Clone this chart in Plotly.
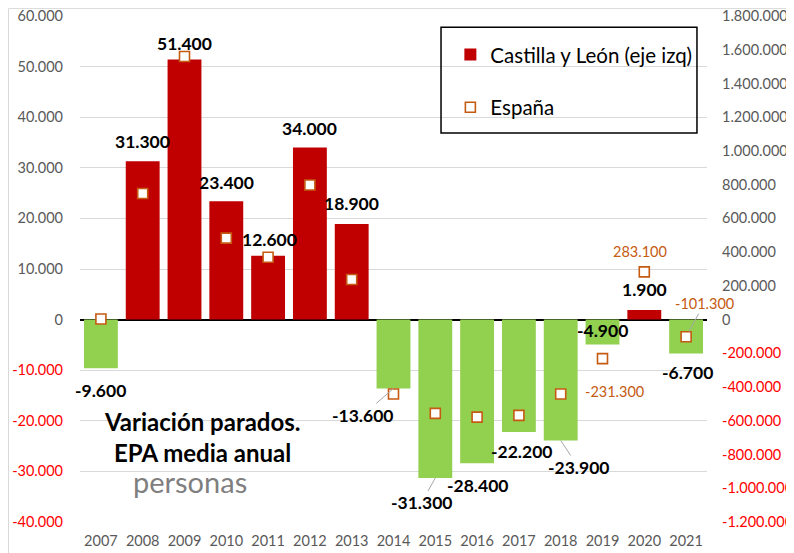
import plotly.graph_objects as go

# ---------------- data ----------------
years = ["2007", "2008", "2009", "2010", "2011", "2012", "2013", "2014",
         "2015", "2016", "2017", "2018", "2019", "2020", "2021"]
cyl_values = [-9600, 31300, 51400, 23400, 12600, 34000, 18900, -13600,
              -31300, -28400, -22200, -23900, -4900, 1900, -6700]
espana_values = [4000, 748000, 1560000, 483000, 370000, 798000, 238000, -441000,
                 -556000, -578000, -568000, -441000, -231300, 283100, -101300]
espana_labelled = ["2019", "2020", "2021"]
left_ticks = [60000, 50000, 40000, 30000, 20000, 10000, 0, -10000, -20000, -30000, -40000]
right_ticks = [1800000, 1600000, 1400000, 1200000, 1000000, 800000, 600000, 400000,
               200000, 0, -200000, -400000, -600000, -800000, -1000000, -1200000]
series_names = ["Castilla y León (eje izq)", "España"]
title_lines = ["Variación parados.", "EPA media anual", "personas"]

# ---------------- style ----------------
FONT = "Lato"
POS_COLOR = "#C00000"
NEG_COLOR = "#92D050"
ORANGE = "#C55A11"
GRAY_TXT = "#595959"
RED_TXT = "#FF0000"


def fmt(v):
    return f"{v:,}".replace(",", ".")


def tick_text(vals):
    out = []
    for v in vals:
        if v < 0:
            out.append(f'<span style="color:{RED_TXT}">{fmt(v)}</span>')
        else:
            out.append(fmt(v))
    return out


pos_vals = [v if v > 0 else None for v in cyl_values]
neg_vals = [v if v < 0 else None for v in cyl_values]

fig = go.Figure()
fig.add_trace(go.Bar(x=years, y=pos_vals, name=series_names[0], marker_color=POS_COLOR,
                     marker_line_width=0, legendgroup="a", yaxis="y"))
fig.add_trace(go.Bar(x=years, y=neg_vals, name=series_names[0], marker_color=NEG_COLOR,
                     marker_line_width=0, legendgroup="a", showlegend=False, yaxis="y"))
fig.add_trace(go.Scatter(x=years, y=espana_values, name=series_names[1], mode="markers",
                         marker=dict(symbol="square", size=10, color="white",
                                     line=dict(color=ORANGE, width=1.6)),
                         legendgroup="b", yaxis="y2"))

# label placement (pixel offsets of label centre from bar end)
cyl_offsets = {
    "2007": (0, 22), "2008": (0, -20), "2009": (0, -16), "2010": (0, -19),
    "2011": (1, -16), "2012": (0, -19), "2013": (0, -20), "2016": (0, 22),
    "2017": (3, 20), "2019": (0, -14), "2020": (0, -20), "2021": (1, 19),
}
cyl_arrows = {"2014": (-31, 27), "2015": (-14, 25), "2018": (18, 27)}
esp_offsets = {"2020": (-4, -20)}
esp_arrows = {"2019": (12, 33), "2021": (18, -33)}

annotations = []
label_font = dict(family=FONT, size=17.5, color="black")
for i, (yr, v) in enumerate(zip(years, cyl_values)):
    txt = "<b>" + fmt(v) + "</b>"
    if yr in cyl_arrows:
        ax, ay = cyl_arrows[yr]
        annotations.append(dict(x=i, y=v, xref="x", yref="y", text=txt, showarrow=True,
                                arrowhead=0, arrowwidth=1, arrowcolor="#A6A6A6",
                                ax=ax, ay=ay, standoff=0, font=label_font))
    else:
        dx, dy = cyl_offsets[yr]
        annotations.append(dict(x=i, y=v, xref="x", yref="y", text=txt, showarrow=False,
                                xshift=dx, yshift=-dy, xanchor="center", yanchor="middle",
                                font=label_font))

esp_font = dict(family=FONT, size=14.5, color=ORANGE)
for i, (yr, v) in enumerate(zip(years, espana_values)):
    if yr not in espana_labelled:
        continue
    txt = fmt(v)
    if yr in esp_arrows:
        ax, ay = esp_arrows[yr]
        annotations.append(dict(x=i, y=v, xref="x", yref="y2", text=txt, showarrow=True,
                                arrowhead=0, arrowwidth=1, arrowcolor="#A6A6A6",
                                ax=ax, ay=ay, standoff=6, font=esp_font))
    else:
        dx, dy = esp_offsets[yr]
        annotations.append(dict(x=i, y=v, xref="x", yref="y2", text=txt, showarrow=False,
                                xshift=dx, yshift=-dy, xanchor="center", yanchor="middle",
                                font=esp_font))

# in-chart title
annotations.append(dict(x=0.195, y=0.199, xref="paper", yref="paper", showarrow=False,
                        text="<b>" + title_lines[0] + "</b>", xanchor="center", yanchor="middle",
                        font=dict(family=FONT, size=24, color="black")))
annotations.append(dict(x=0.195, y=0.138, xref="paper", yref="paper", showarrow=False,
                        text="<b>" + title_lines[1] + "</b>", xanchor="center", yanchor="middle",
                        font=dict(family=FONT, size=24, color="black")))
annotations.append(dict(x=0.176, y=0.081, xref="paper", yref="paper", showarrow=False,
                        text=title_lines[2], xanchor="center", yanchor="middle",
                        font=dict(family=FONT, size=29, color="#7F7F7F")))

shapes = [
    # legend frame
    dict(type="rect", xref="paper", yref="paper", x0=0.5758, x1=0.984, y0=0.7688, y1=0.978,
         line=dict(color="black", width=1.5), fillcolor="rgba(0,0,0,0)", layer="above"),
    # chart area border
    dict(type="rect", xref="paper", yref="paper", x0=-0.1140, x1=1.2, y0=-0.2, y1=1.015,
         line=dict(color="#D9D9D9", width=1), fillcolor="rgba(0,0,0,0)", layer="below"),
]

# the page places the figure 8px from the top-left corner of the window
fig.update_layout(
    width=786, height=545,
    margin=dict(l=72, r=87, t=8, b=31, autoexpand=False),
    paper_bgcolor="white", plot_bgcolor="white",
    barmode="overlay", bargap=0.19,
    font=dict(family=FONT, color=GRAY_TXT),
    showlegend=True,
    legend=dict(x=0.5907, y=0.963, xanchor="left", yanchor="top",
                bgcolor="rgba(0,0,0,0)", borderwidth=0,
                traceorder="grouped", tracegroupgap=23,
                font=dict(family=FONT, size=20.5, color="black")),
    xaxis=dict(type="category", range=[-0.5, len(years) - 0.5], showgrid=False,
               showline=False, ticks="", ticklabelstandoff=8, automargin=False,
               ticklabeloverflow="allow",
               tickfont=dict(family=FONT, size=14.5, color=GRAY_TXT)),
    yaxis=dict(range=[-40000, 60000], tickvals=left_ticks, ticktext=tick_text(left_ticks),
               showgrid=True, gridcolor="#D9D9D9", gridwidth=1,
               zeroline=True, zerolinecolor="black", zerolinewidth=1.5,
               showline=False, ticks="", ticklabelstandoff=16, automargin=False,
               ticklabeloverflow="allow",
               tickfont=dict(family=FONT, size=14.5, color=GRAY_TXT)),
    yaxis2=dict(range=[-1200000, 1800000], tickvals=right_ticks, ticktext=tick_text(right_ticks),
                overlaying="y", side="right", showgrid=False, zeroline=False,
                showline=False, ticks="", ticklabelstandoff=14, automargin=False,
                ticklabeloverflow="allow",
                tickfont=dict(family=FONT, size=14.5, color=GRAY_TXT)),
    annotations=annotations,
    shapes=shapes,
)

fig.write_html("out.html")
